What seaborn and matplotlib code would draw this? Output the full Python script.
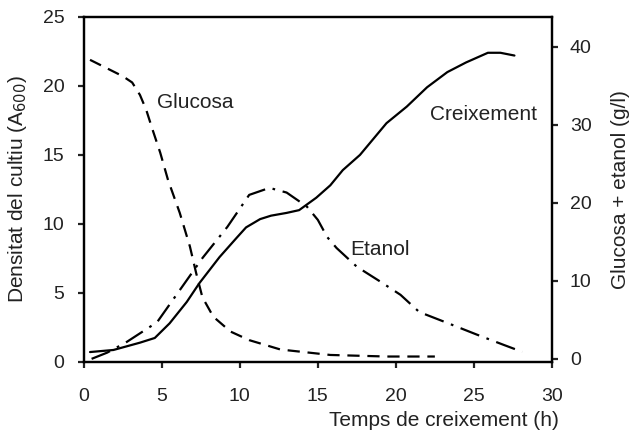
import pandas as pd
import seaborn as sns
import matplotlib.pyplot as plt

# creixement (A600, eix esquerre)
t_creix = [0.4, 1.9, 3.6, 4.55, 5.5, 6.6, 7.4, 8.7, 9.8, 10.4, 11.3, 12.0, 13.0, 13.8, 14.9, 15.8, 16.6,
           17.7, 19.4, 20.7, 22.0, 23.3, 24.5, 25.1, 25.9, 26.7, 27.6]
creix = [0.72, 0.87, 1.4, 1.74, 2.8, 4.35, 5.7, 7.6, 9.0, 9.75, 10.35, 10.6, 10.8, 11.0, 11.9, 12.8, 13.9,
         15.0, 17.3, 18.5, 19.9, 21.0, 21.7, 22.0, 22.4, 22.4, 22.2]

# glucosa (g/l, eix dret)
t_gluc = [0.4, 1.9, 2.5, 3.1, 3.6, 4.0, 4.4, 4.9, 5.4, 6.15, 6.8, 7.2, 7.6, 8.3, 9.4, 10.6, 12.6, 15.8, 19.4, 22.5]
gluc = [38.3, 36.8, 36.2, 35.4, 33.8, 31.9, 29.4, 26.4, 22.9, 18.7, 14.4, 11.0, 7.9, 5.4, 3.5, 2.4, 1.2, 0.5, 0.3, 0.3]

# etanol (g/l, eix dret)
t_etan = [0.5, 1.5, 2.7, 4.7, 6.15, 7.6, 9.2, 10.6, 11.9, 13.0, 14.3, 15.0, 15.6, 16.2, 17.5, 19.0, 20.3,
          21.5, 23.3, 25.2, 26.9, 28.1]
etan = [0.0, 0.8, 2.1, 4.7, 8.8, 12.9, 16.9, 21.0, 21.9, 21.3, 19.5, 17.8, 15.6, 14.2, 11.8, 9.9, 8.2,
        6.0, 4.6, 3.1, 1.8, 0.9]

df_c = pd.DataFrame({"t": t_creix, "v": creix})
df_g = pd.DataFrame({"t": t_gluc, "v": gluc})
df_e = pd.DataFrame({"t": t_etan, "v": etan})

sns.set_style("ticks")
plt.rcParams["font.family"] = ["Liberation Sans", "DejaVu Sans"]

fig = plt.figure(figsize=(6.3, 4.33), dpi=100)
ax = fig.add_axes([0.133, 0.164, 0.743, 0.797])
ax2 = ax.twinx()

sns.lineplot(data=df_c, x="t", y="v", ax=ax, color="black", lw=1.6)
sns.lineplot(data=df_g, x="t", y="v", ax=ax2, color="black", lw=1.6)
sns.lineplot(data=df_e, x="t", y="v", ax=ax2, color="black", lw=1.6)
ax2.lines[0].set_dashes([5.5, 3.5])
ax2.lines[1].set_dashes([9, 3.5, 1.2, 3.5])

ax.set_xlim(0, 30)
ax.set_ylim(0, 25)
ax2.set_ylim(-0.4, 43.8)
ax.set_xticks(range(0, 31, 5))
ax.set_yticks(range(0, 26, 5))
ax2.set_yticks(range(0, 41, 10))

for a in (ax, ax2):
    for s in a.spines.values():
        s.set_linewidth(1.6)
        s.set_color("black")
    a.tick_params(width=1.6, length=4, labelsize=14, colors="#222222")

ax.tick_params(axis="x", pad=15)
ax.tick_params(axis="y", pad=10)
ax2.tick_params(axis="y", pad=9)

ax.set_xlabel("Temps de creixement (h)", fontsize=15, x=1.015, ha="right", labelpad=4, color="#222222")
ax.set_ylabel("Densitat del cultiu (A$_{600}$)", fontsize=15, labelpad=10, color="#222222")
ax2.set_ylabel("Glucosa + etanol (g/l)", fontsize=15, labelpad=14, color="#222222")

ax.text(4.68, 18.4, "Glucosa", fontsize=15, color="#222222")
ax.text(22.2, 17.5, "Creixement", fontsize=15, color="#222222")
ax.text(17.05, 7.75, "Etanol", fontsize=15, color="#222222")

fig.savefig("out.png", dpi=100)
